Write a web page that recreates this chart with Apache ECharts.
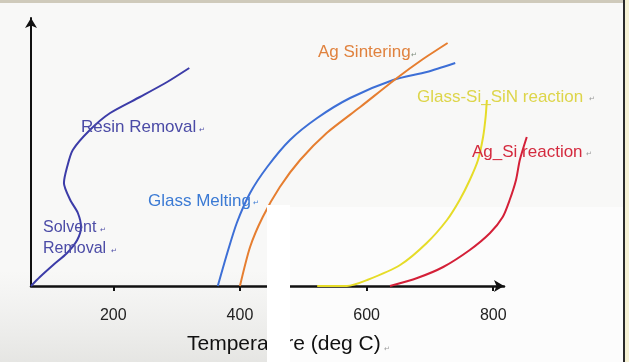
<!DOCTYPE html>
<html><head><meta charset="utf-8">
<script src="https://cdn.jsdelivr.net/npm/echarts@6/dist/echarts.min.js"></script>
<style>html,body{margin:0;padding:0;background:#f8f8f7}#c{width:629px;height:362px}</style>
</head><body><div id="c"></div>
<script>
// Temperature tick labels (deg C)
const xTicks = [200, 400, 600, 800];
// Curves: [temperature, relative progress]
const solventResin = [[70,0],[84,9],[105,21],[127,33],[143,46],[149,59],[144,73],[132,86],[122,103],[127,119],[136,136],[163,156],[195,173],[242,189],[285,204],[320,218]];
const glassMelting = [[365,0],[380,33],[395,63],[416,93],[443,119],[479,146],[522,168],[574,188],[642,206],[695,214],[740,223]];
const agSintering = [[400,0],[416,39],[436,69],[463,99],[495,126],[537,153],[590,179],[648,208],[687,226],[728,243]];
const glassSiSiN = [[522,0],[569,0],[601,6],[653,21],[695,43],[727,66],[747,86],[763,106],[776,126],[784,149],[788,169],[790,186]];
const agSi = [[637,0],[680,8],[721,19],[763,36],[795,53],[815,69],[826,86],[836,106],[842,126],[853,149]];

const F = '"Liberation Sans", Arial, sans-serif';
function label(text, x, y, size, color) {
  return {type:'text', z:50, style:{text:text, x:x, y:y, fill:color, font: size + 'px ' + F, verticalAlign:'middle'}};
}
function mark(x, y, color) {
  return {type:'text', z:50, style:{text:'\u21B5', x:x, y:y, fill:color, font:'7px "DejaVu Sans"', verticalAlign:'middle'}};
}
const chart = echarts.init(document.getElementById('c'));
function line(name, data, color) {
  return {name:name, type:'line', data:data, showSymbol:false, smooth:0.25, clip:false,
    xAxisIndex:0, yAxisIndex:0,
    lineStyle:{color:color, width:2}, itemStyle:{color:color}, z:3};
}
chart.setOption({
  backgroundColor:'#f8f8f7',
  animation:false,
  grid:[
    {left:31, right:97.8, top:18, bottom:76, outerBoundsMode:'none'},
    {left:31, right:125, top:18, bottom:76, outerBoundsMode:'none'}
  ],
  xAxis:[
    {type:'value', gridIndex:0, min:70, max:860, show:false},
    {type:'value', gridIndex:1, min:70, max:817,
      axisLine:{show:true, symbol:['none','arrow'], symbolSize:[9,10], lineStyle:{color:'#111', width:2.5}},
      axisTick:{show:true, customValues:xTicks, length:5, lineStyle:{color:'#111', width:2}},
      axisLabel:{customValues:xTicks, margin:22, fontSize:16, color:'#222', fontFamily:F},
      splitLine:{show:false}}
  ],
  yAxis:[
    {type:'value', gridIndex:0, min:0, max:268, show:false},
    {type:'value', gridIndex:1, min:0, max:268,
      axisLine:{show:true, symbol:['none','arrow'], symbolSize:[9,10], lineStyle:{color:'#111', width:2}},
      axisTick:{show:false}, axisLabel:{show:false}, splitLine:{show:false}}
  ],
  series:[
    line('Solvent / Resin Removal', solventResin, '#3c3ca8'),
    line('Glass Melting', glassMelting, '#3d6fd6'),
    line('Ag Sintering', agSintering, '#e67e30'),
    line('Glass-Si_SiN reaction', glassSiSiN, '#e6dc28'),
    line('Ag_Si reaction', agSi, '#d42038')
  ],
  graphic:[
    {type:'rect', z:-20, shape:{x:0, y:270, width:290, height:92},
      style:{fill:new echarts.graphic.LinearGradient(0,0,0,1,[{offset:0,color:'rgba(230,230,228,0)'},{offset:1,color:'rgba(225,225,222,0.8)'}])}},
    {type:'rect', z:-10, shape:{x:290, y:207, width:333, height:155}, style:{fill:'#fcfcfc'}},
    {type:'rect', z:100, shape:{x:0, y:0, width:629, height:3}, style:{fill:'#cfcabb'}},
    {type:'rect', z:100, shape:{x:623, y:0, width:2, height:362}, style:{fill:'#2a2a2a'}},
    {type:'rect', z:100, shape:{x:625, y:0, width:4, height:362}, style:{fill:'#f6f2d6'}},
    label('Resin Removal', 81, 127, 17, '#4b4ba6'), mark(199, 130, '#4b4ba6'),
    label('Solvent', 43, 228, 16, '#4b4ba6'), mark(100, 230, '#4b4ba6'),
    label('Removal', 43, 249, 16, '#4b4ba6'), mark(111, 251, '#4b4ba6'),
    label('Glass Melting', 148, 201, 17, '#3b7ad4'), mark(253, 203, '#3b7ad4'),
    label('Ag Sintering', 318, 52, 17, '#e0823e'), mark(411, 55, '#7a8a7a'),
    label('Glass-Si_SiN reaction', 417, 97, 17, '#ddd54a'), mark(589, 99, '#999'),
    label('Ag_Si reaction', 472, 152, 17, '#d42a3e'), mark(586, 154, '#999'),
    label('Temperature (deg C)', 187, 344, 21, '#111'), mark(384, 349, '#999'),
    {type:'rect', z:100, shape:{x:267, y:205, width:23, height:157}, style:{fill:'#ffffff'}}
  ]
});
</script></body></html>
